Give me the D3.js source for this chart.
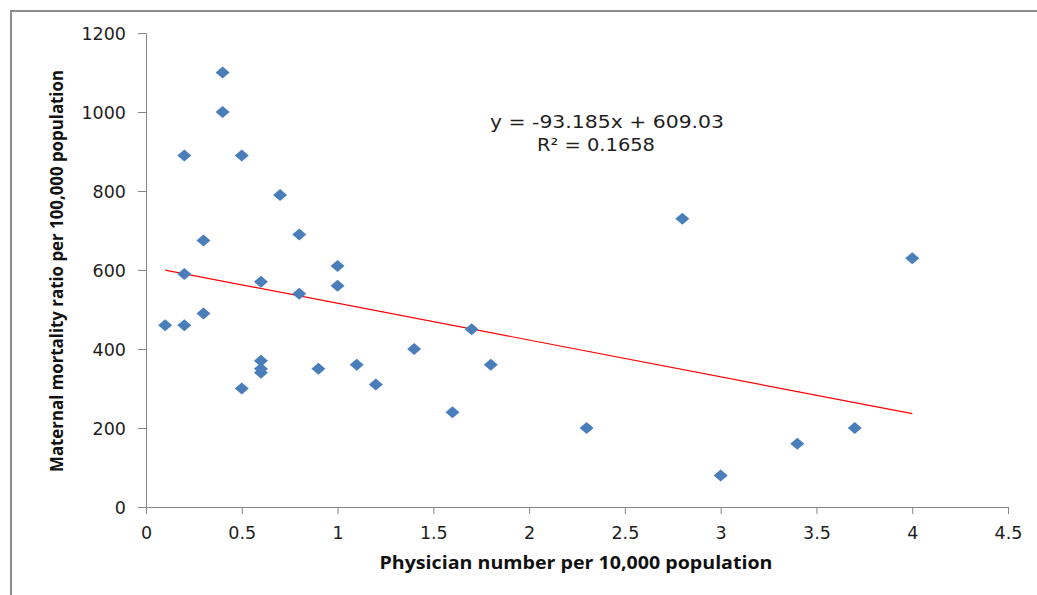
<!DOCTYPE html>
<html><head><meta charset="utf-8">
<script src="https://cdn.jsdelivr.net/npm/d3@7"></script>
<style>body{margin:0;background:#fff;} svg{display:block;}</style>
</head><body>
<script>
const physicians = [0.1,0.2,0.2,0.2,0.3,0.3,0.4,0.4,0.5,0.5,0.6,0.6,0.6,0.6,0.7,0.8,0.8,0.9,1.0,1.0,1.1,1.2,1.4,1.6,1.7,1.8,2.3,2.8,3.0,3.4,3.7,4.0];
const mortality  = [460,890,590,460,675,490,1100,1000,890,300,570,370,350,340,790,690,540,350,610,560,360,310,400,240,450,360,200,730,80,160,200,630];
const xTicks = [0,0.5,1,1.5,2,2.5,3,3.5,4,4.5];
const yTicks = [0,200,400,600,800,1000,1200];
const slope = -93.185, intercept = 609.03;
const trendRange = [0.1, 4.0];
const eqText = "y = -93.185x + 609.03";
const r2Text = "R² = 0.1658";
const xTitle = "Physician number per 10,000 population";
const yTitle = "Maternal mortality ratio per 100,000 population";

const W=1037,H=595;
const svg=d3.select("body").append("svg").attr("width",W).attr("height",H);
const tickFont="'DejaVu Sans', sans-serif";
const titleFont="'Open Sans', 'Liberation Sans', sans-serif";

// frame (left & top visible)
svg.append("path").attr("d",`M11,${H} V11 H${W}`).attr("fill","none").attr("stroke","#8c8c8c").attr("stroke-width",2);

const x=d3.scaleLinear().domain([0,4.5]).range([146,1008]);
const y=d3.scaleLinear().domain([0,1200]).range([507,33]);

const xa=svg.append("g").attr("transform","translate(0,507)")
  .call(d3.axisBottom(x).tickValues(xTicks).tickSize(7).tickSizeOuter(0).tickFormat(d=>String(d)));
const ya=svg.append("g").attr("transform","translate(146,0)")
  .call(d3.axisLeft(y).tickValues(yTicks).tickSize(8).tickSizeOuter(0).tickFormat(d=>String(d)));
[xa,ya].forEach(a=>{
  a.select(".domain").attr("stroke","#868686");
  a.selectAll(".tick line").attr("stroke","#868686");
  a.selectAll(".tick text").attr("fill","#1e1e1e").attr("font-family",tickFont).attr("font-size",17.5);
});
xa.selectAll(".tick text").attr("y",20).attr("dy","0.71em");
ya.selectAll(".tick text").attr("x",-20).attr("dy","0.36em");

// trendline
svg.append("line")
  .attr("x1",x(trendRange[0])).attr("y1",y(slope*trendRange[0]+intercept))
  .attr("x2",x(trendRange[1])).attr("y2",y(slope*trendRange[1]+intercept))
  .attr("stroke","#ff0000").attr("stroke-width",1.2);

// points
const pts=physicians.map((v,i)=>({x:v,y:mortality[i]}));
svg.append("g").selectAll("path").data(pts).join("path")
  .attr("transform",d=>`translate(${x(d.x)},${y(d.y)})`)
  .attr("d","M0,-6 L7,0 L0,6 L-7,0 Z")
  .attr("fill","#4a7ebb");

// equation
svg.append("text").attr("x",607).attr("y",128).attr("text-anchor","middle")
  .attr("font-family",tickFont).attr("font-size",17.5).attr("fill","#1e1e1e")
  .attr("textLength",234).attr("lengthAdjust","spacingAndGlyphs").text(eqText);
svg.append("text").attr("x",596).attr("y",151).attr("text-anchor","middle")
  .attr("font-family",tickFont).attr("font-size",17.5).attr("fill","#1e1e1e")
  .attr("textLength",118).attr("lengthAdjust","spacingAndGlyphs").text(r2Text);

// titles
svg.append("text").attr("x",576).attr("y",569).attr("text-anchor","middle")
  .attr("font-family",titleFont).attr("font-weight","bold").attr("font-size",17).attr("fill","#111")
  .attr("textLength",393).attr("lengthAdjust","spacingAndGlyphs").text(xTitle);
svg.append("text").attr("transform","translate(63,271) rotate(-90)").attr("text-anchor","middle")
  .attr("font-family",titleFont).attr("font-weight","bold").attr("font-size",17).attr("fill","#111")
  .attr("textLength",402).attr("lengthAdjust","spacingAndGlyphs").text(yTitle);
</script>
</body></html>
